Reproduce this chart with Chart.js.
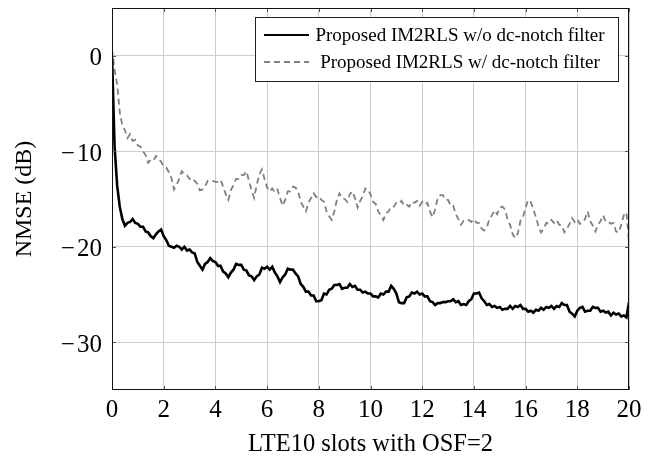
<!DOCTYPE html>
<html>
<head>
<meta charset="utf-8">
<script src="https://cdn.jsdelivr.net/npm/chart.js@4"></script>
<style>
  body { margin: 0; background: #fff; }
  #wrap { width: 655px; height: 461px; }
</style>
</head>
<body>
<div id="wrap"><canvas id="nmseChart" width="655" height="461"></canvas></div>
<script>
// ── NMSE vs. LTE10 slots ──
const X_TICKS = [0, 2, 4, 6, 8, 10, 12, 14, 16, 18, 20];
const Y_TICKS = [-30, -20, -10, 0];
const SLOT_STEP = 0.1;   // samples read every 0.1 slot, 0..20

const SERIES_NAMES = [
  'Proposed IM2RLS w/o dc-notch filter',
  'Proposed IM2RLS w/ dc-notch filter'
];

// w/o dc-notch filter (black, solid)
const NMSE_NO_NOTCH = [
  0, -9.5, -13.6, -15.8, -17.1, -17.8, -17.5, -17.4, -17.1, -17.5,
  -17.6, -17.9, -17.9, -18.4, -18.5, -18.9, -19.1, -18.7, -18.4, -18.2,
  -18.9, -19.3, -19.9, -20.0, -20.1, -19.9, -20.0, -20.3, -20.0, -20.4,
  -20.3, -20.6, -20.7, -21.6, -22.0, -22.4, -21.8, -21.6, -21.2, -21.5,
  -21.6, -22.0, -22.0, -22.6, -22.8, -23.2, -22.7, -22.4, -21.8, -21.9,
  -21.9, -22.4, -22.5, -23.0, -23.1, -23.5, -23.1, -22.9, -22.2, -22.3,
  -22.1, -22.4, -22.1, -22.7, -23.1, -23.7, -23.2, -22.9, -22.3, -22.4,
  -22.4, -22.8, -23.1, -23.9, -24.2, -24.7, -24.7, -25.1, -25.1, -25.7,
  -25.7, -25.6, -24.9, -25.0, -24.5, -24.4, -24.0, -24.0, -23.9, -24.4,
  -24.3, -24.3, -23.9, -24.2, -24.1, -24.5, -24.5, -24.8, -24.7, -24.9,
  -24.9, -25.2, -25.2, -25.3, -24.9, -25.0, -24.7, -24.7, -24.1, -24.4,
  -24.9, -25.8, -25.9, -25.9, -25.3, -25.2, -24.8, -24.9, -24.7, -25.0,
  -24.9, -25.2, -25.2, -25.7, -25.8, -26.1, -25.9, -25.9, -25.8, -25.8,
  -25.7, -25.7, -25.5, -25.8, -25.7, -26.1, -26.0, -26.1, -25.7, -25.5,
  -24.9, -24.9, -24.8, -25.4, -25.7, -26.1, -26.0, -26.3, -26.2, -26.4,
  -26.3, -26.6, -26.5, -26.5, -26.2, -26.5, -26.2, -26.3, -26.1, -26.5,
  -26.5, -26.8, -26.7, -26.9, -26.6, -26.7, -26.4, -26.6, -26.3, -26.4,
  -26.2, -26.5, -26.2, -26.3, -25.9, -26.1, -26.1, -26.8, -27.0, -27.3,
  -26.7, -26.4, -26.3, -26.8, -26.7, -26.7, -26.3, -26.4, -26.4, -26.8,
  -26.7, -26.9, -26.8, -27.2, -26.9, -27.1, -27.0, -27.3, -27.2, -27.4,
  -25.8
];

// w/ dc-notch filter (gray, dashed)
const NMSE_NOTCH = [
  0.7, -1.5, -3.0, -5.9, -7.3, -7.8, -8.6, -8.2, -8.9, -8.8,
  -9.4, -9.5, -10.0, -10.4, -11.2, -10.9, -11.0, -10.5, -10.8, -11.1,
  -11.6, -11.7, -12.2, -12.8, -14.0, -13.5, -12.9, -12.1, -12.4, -12.5,
  -12.9, -12.8, -13.1, -13.4, -14.1, -14.0, -13.7, -13.1, -13.1, -13.1,
  -13.2, -13.2, -13.0, -13.7, -14.5, -15.1, -14.1, -13.5, -12.9, -12.9,
  -12.5, -12.5, -12.1, -13.1, -14.1, -14.9, -13.5, -12.4, -11.9, -12.9,
  -13.8, -14.2, -13.9, -14.3, -14.0, -14.9, -15.7, -15.1, -14.2, -14.2,
  -13.7, -13.8, -14.2, -15.3, -15.8, -16.3, -15.4, -14.9, -14.4, -14.8,
  -14.7, -15.1, -15.3, -16.3, -16.8, -17.2, -16.3, -15.1, -14.4, -14.9,
  -15.0, -15.3, -14.5, -14.2, -14.9, -15.9, -15.2, -14.7, -13.9, -14.0,
  -14.5, -15.3, -15.5, -16.3, -16.7, -17.2, -16.5, -16.3, -15.8, -15.8,
  -15.4, -15.5, -15.2, -15.7, -15.6, -15.8, -15.3, -15.4, -15.2, -15.7,
  -15.3, -15.6, -15.4, -16.3, -16.9, -16.1, -14.9, -14.6, -14.6, -15.1,
  -15.1, -15.7, -15.7, -16.6, -17.1, -17.7, -17.3, -17.3, -17.2, -17.4,
  -17.1, -17.5, -17.5, -18.1, -18.3, -18.0, -17.1, -16.7, -16.2, -16.6,
  -15.9, -15.8, -16.1, -17.1, -17.7, -18.7, -19.1, -18.6, -17.3, -16.9,
  -15.9, -15.1, -15.3, -16.1, -16.9, -17.9, -18.5, -18.1, -17.5, -17.6,
  -17.2, -17.5, -17.2, -17.7, -17.8, -18.5, -18.1, -17.6, -17.0, -17.4,
  -17.1, -17.6, -17.5, -17.1, -16.3, -17.3, -17.8, -18.4, -17.7, -17.3,
  -16.7, -17.4, -17.4, -17.6, -17.5, -18.4, -18.5, -17.7, -16.7, -16.4,
  -19.5
];

const SERIF = "'Liberation Serif', 'Times New Roman', serif";
const toPoints = arr => arr.map((v, i) => ({ x: i * SLOT_STEP, y: v }));
const fmtTick = v => (v < 0 ? '\u2212\u200A' + Math.abs(v) : String(v));

// frame, inward tick marks and the boxed legend (pgfplots look)
const framePlugin = {
  id: 'frame',
  afterDatasetsDraw(chart) {
    const { ctx, chartArea: a, scales } = chart;
    ctx.save();
    ctx.strokeStyle = '#555';
    ctx.lineWidth = 1;
    ctx.beginPath();
    X_TICKS.forEach(v => {
      const x = Math.round(scales.x.getPixelForValue(v)) + 0.5;
      ctx.moveTo(x, a.bottom); ctx.lineTo(x, a.bottom - 4);
      ctx.moveTo(x, a.top); ctx.lineTo(x, a.top + 4);
    });
    Y_TICKS.forEach(v => {
      const y = Math.round(scales.y.getPixelForValue(v)) + 0.5;
      ctx.moveTo(a.left, y); ctx.lineTo(a.left + 4, y);
      ctx.moveTo(a.right, y); ctx.lineTo(a.right - 4, y);
    });
    ctx.stroke();
    ctx.strokeStyle = '#111';
    ctx.strokeRect(a.left + 0.5, a.top + 0.5, a.right - a.left - 1, a.bottom - a.top - 1);

    // legend
    const bx = a.left + 143, by = a.top + 9, bw = 363, bh = 64;
    ctx.fillStyle = '#fff';
    ctx.fillRect(bx, by, bw, bh);
    ctx.strokeStyle = '#222';
    ctx.strokeRect(bx + 0.5, by + 0.5, bw, bh);
    const rows = [
      { y: by + 18, color: '#000', dash: [], width: 2.2 },
      { y: by + 45, color: '#808080', dash: [6, 4], width: 1.8 }
    ];
    rows.forEach((r, i) => {
      ctx.beginPath();
      ctx.setLineDash(r.dash);
      ctx.strokeStyle = r.color;
      ctx.lineWidth = r.width;
      ctx.moveTo(bx + 9, r.y); ctx.lineTo(bx + 54, r.y);
      ctx.stroke();
      ctx.setLineDash([]);
      ctx.fillStyle = '#000';
      ctx.font = '19px ' + SERIF;
      ctx.textAlign = 'center';
      ctx.textBaseline = 'middle';
      ctx.fillText(SERIES_NAMES[i], bx + 205, r.y + 1);
    });
    ctx.restore();
  }
};

new Chart(document.getElementById('nmseChart'), {
  type: 'line',
  data: {
    datasets: [
      { label: SERIES_NAMES[0], data: toPoints(NMSE_NO_NOTCH), borderColor: '#000', borderWidth: 2.6, pointRadius: 0, tension: 0 },
      { label: SERIES_NAMES[1], data: toPoints(NMSE_NOTCH), borderColor: '#808080', borderWidth: 1.8, borderDash: [6, 4], pointRadius: 0, tension: 0 }
    ]
  },
  options: {
    responsive: false,
    animation: false,
    layout: { padding: { left: 0, right: 26, top: 8, bottom: 0 } },
    plugins: { legend: { display: false }, tooltip: { enabled: false } },
    scales: {
      x: {
        type: 'linear', min: 0, max: 20,
        afterBuildTicks: s => { s.ticks = X_TICKS.map(v => ({ value: v })); },
        afterFit: s => { s.height = 71; s.paddingLeft = 0; s.paddingRight = 0; },
        grid: { color: '#cccccc', drawTicks: false },
        border: { display: false },
        ticks: { color: '#000', font: { family: SERIF, size: 25 }, padding: 5, maxRotation: 0, callback: fmtTick },
        title: { display: true, text: 'LTE10 slots with OSF=2', color: '#000', font: { family: SERIF, size: 24.5 }, padding: { top: 0, bottom: 2 } }
      },
      y: {
        min: -35, max: 5,
        afterBuildTicks: s => { s.ticks = Y_TICKS.map(v => ({ value: v })); },
        afterFit: s => { s.width = 112; s.paddingTop = 0; s.paddingBottom = 0; },
        grid: { color: '#cccccc', drawTicks: false },
        border: { display: false },
        ticks: { color: '#000', font: { family: SERIF, size: 25 }, padding: 10, labelOffset: 3, callback: fmtTick },
        title: { display: true, text: 'NMSE (dB)', color: '#000', font: { family: SERIF, size: 24 }, padding: { top: 10, bottom: 0 } }
      }
    }
  },
  plugins: [framePlugin]
});
</script>
</body>
</html>
